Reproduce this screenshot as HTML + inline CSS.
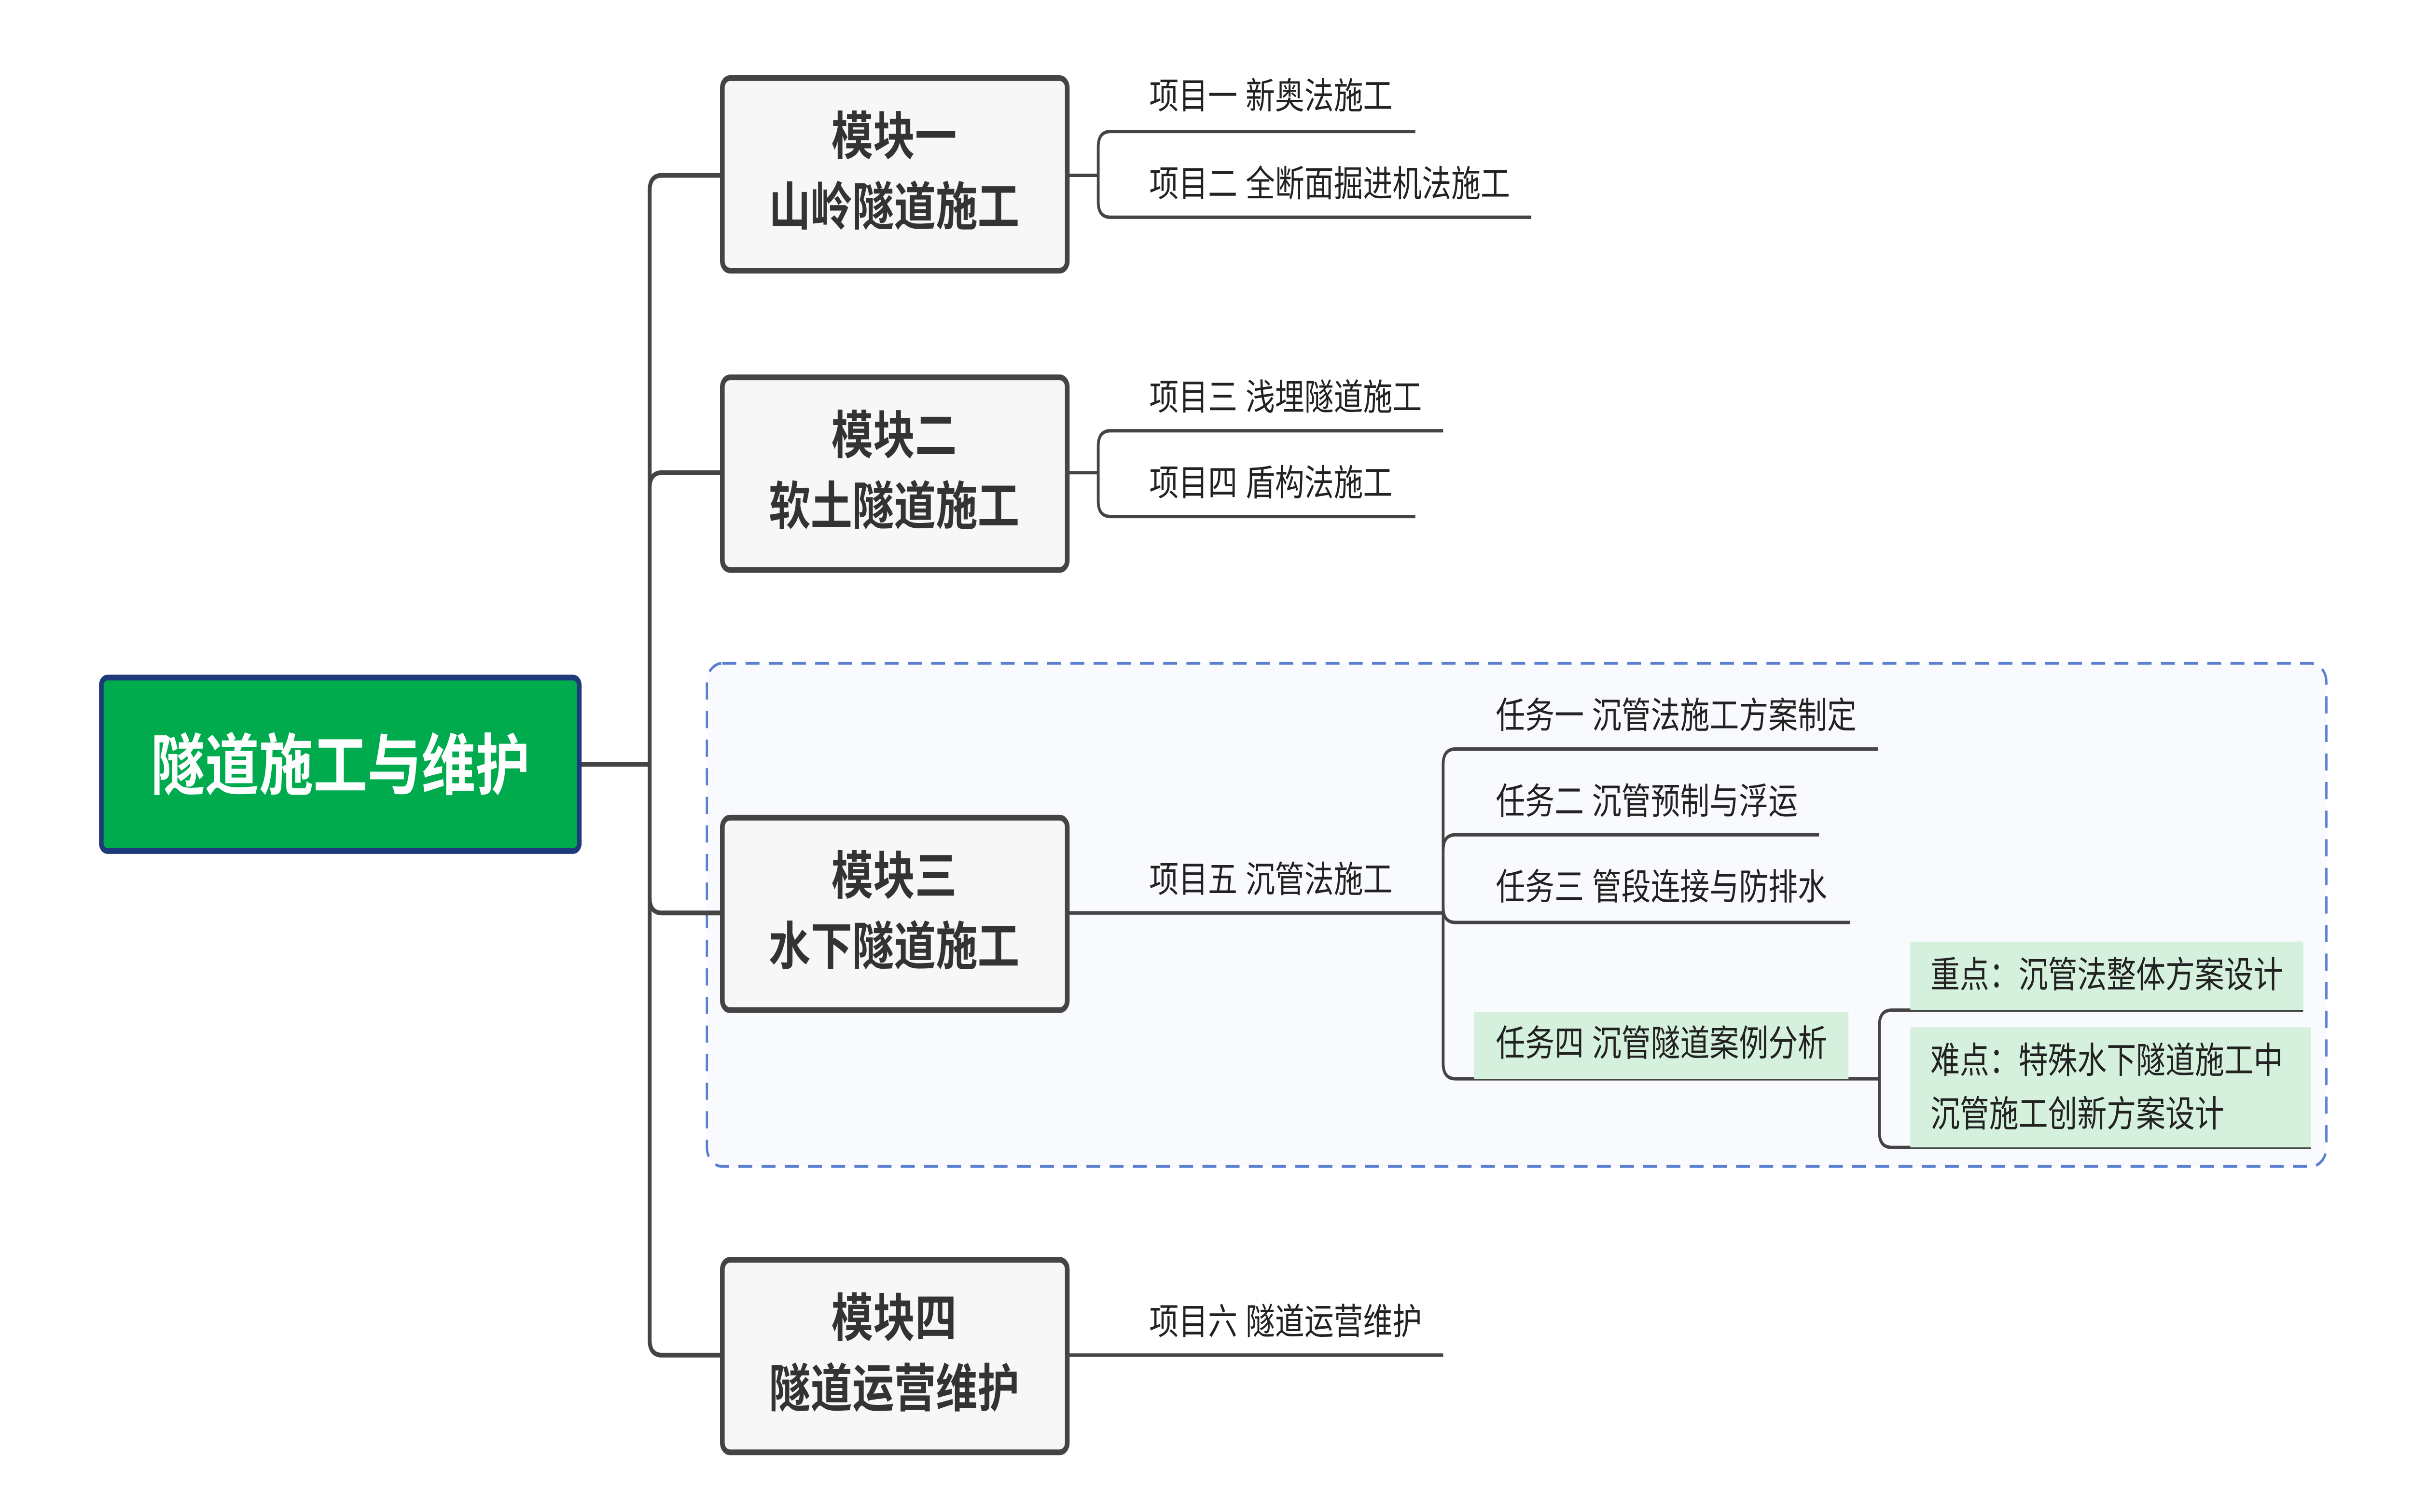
<!DOCTYPE html>
<html><head><meta charset="utf-8"><style>
html,body{margin:0;padding:0;background:#fff;overflow:hidden;}
svg{display:block;width:100vw;height:100vh;}
text{font-family:"Liberation Sans","Noto Sans CJK SC",sans-serif;}
</style></head><body>
<svg viewBox="0 0 1560 793.3" preserveAspectRatio="none" xmlns="http://www.w3.org/2000/svg">
<rect x="0" y="0" width="1560" height="793.3" fill="#fff"/>
<rect x="457" y="348" width="1047" height="264" rx="10" fill="#f9fafd" stroke="#5b7fd1" stroke-width="1.5" stroke-dasharray="9,6"/>
<g fill="none" stroke="#444" stroke-width="2.5">
<path d="M375 401 H420"/>
<path d="M466 92 H428 Q420 92 420 100 V703 Q420 711 428 711 H466"/>
<path d="M420 256 Q420 248 428 248 H466"/>
<path d="M420 471 Q420 479 428 479 H466"/>
</g>
<g fill="none" stroke="#444" stroke-width="1.8">
<path d="M690 92 H710"/>
<path d="M915 69 H718 Q710 69 710 77 V106 Q710 114 718 114 H990"/>
<path d="M690 248 H710"/>
<path d="M933 226 H718 Q710 226 710 234 V263 Q710 271 718 271 H915"/>
<path d="M690 479 H933"/>
<path d="M1214 393 H941 Q933 393 933 401 V558 Q933 566 941 566 H1195"/>
<path d="M933 446 Q933 438 941 438 H1176"/>
<path d="M933 476 Q933 484 941 484 H1196"/>
<path d="M1195 566 H1215"/>
<path d="M1489 530 H1223 Q1215 530 1215 538 V594 Q1215 602 1223 602 H1494"/>
<path d="M690 711 H933"/>
</g>
<rect x="65.5" y="355.5" width="309" height="91" rx="4" fill="#00ab4e" stroke="#1f3a7a" stroke-width="3"/>
<text x="220" y="414" font-size="35" font-weight="700" fill="#fff" text-anchor="middle">隧道施工与维护</text>
<g fill="#f7f7f7" stroke="#444" stroke-width="3">
<rect x="467" y="41" width="223" height="101" rx="5"/>
<rect x="467" y="198" width="223" height="101" rx="5"/>
<rect x="467" y="429" width="223" height="101" rx="5"/>
<rect x="467" y="661" width="223" height="101" rx="5"/>
</g>
<g font-size="27" font-weight="700" fill="#333" text-anchor="middle">
<text x="578" y="81">模块一</text><text x="578" y="118">山岭隧道施工</text>
<text x="578" y="238">模块二</text><text x="578" y="275">软土隧道施工</text>
<text x="578" y="469">模块三</text><text x="578" y="506">水下隧道施工</text>
<text x="578" y="701">模块四</text><text x="578" y="738">隧道运营维护</text>
</g>
<rect x="953" y="531" width="242" height="35" fill="#d5f0dd"/>
<rect x="1235" y="494" width="254" height="36" fill="#d5f0dd"/>
<rect x="1235" y="539" width="259" height="63" fill="#d5f0dd"/>
<g font-size="19" fill="#222">
<text x="743" y="57">项目一 新奥法施工</text>
<text x="743" y="103">项目二 全断面掘进机法施工</text>
<text x="743" y="215">项目三 浅埋隧道施工</text>
<text x="743" y="260">项目四 盾构法施工</text>
<text x="743" y="468">项目五 沉管法施工</text>
<text x="743" y="700">项目六 隧道运营维护</text>
<text x="967" y="382">任务一 沉管法施工方案制定</text>
<text x="967" y="427">任务二 沉管预制与浮运</text>
<text x="967" y="472">任务三 管段连接与防排水</text>
<text x="967" y="554">任务四 沉管隧道案例分析</text>
<text x="1248" y="518">重点：沉管法整体方案设计</text>
<text x="1248" y="563">难点：特殊水下隧道施工中</text>
<text x="1248" y="591">沉管施工创新方案设计</text>
</g>
</svg>
</body></html>
